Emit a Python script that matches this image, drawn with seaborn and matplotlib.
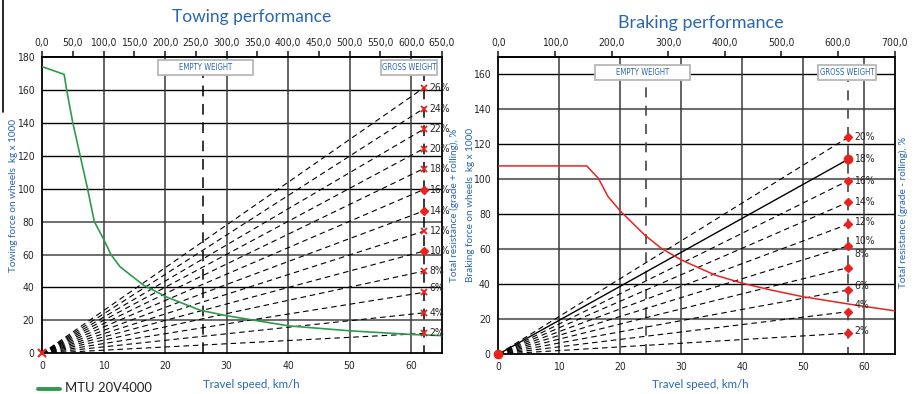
import matplotlib
matplotlib.use("Agg")
import numpy as np
import pandas as pd
import matplotlib.pyplot as plt
from matplotlib.patches import Rectangle
from matplotlib.lines import Line2D
from matplotlib import font_manager as fm
import seaborn as sns

# ---------------- data ----------------
tow_speed = [0, 3.6, 4.0, 5.0, 6.2, 7.4, 8.5, 10.1, 11.2, 12.7, 16.5, 20.2, 25.7, 30.1, 40.1, 50.1, 60.0, 65.0]
tow_force = [174, 169.3, 160, 140, 120, 100, 80, 68.7, 60, 52.5, 41.4, 34.3, 26.2, 22.8, 16.7, 13.7, 11.5, 10.8]

brake_speed = [0, 14.5, 16.4, 18.0, 20.1, 24.0, 26.7, 30.0, 35.5, 40.0, 44.7, 49.9, 57.6, 65.0]
brake_force = [107.6, 107.6, 100.6, 90.1, 81.5, 68.2, 60.6, 53.9, 45.3, 40.6, 36.7, 32.9, 28.6, 24.8]

tow_grades = ["2%", "4%", "6%", "8%", "10%", "12%", "14%", "16%", "18%", "20%", "22%", "24%", "26%"]
tow_resist = [12.1, 24.6, 37.0, 49.9, 62.0, 74.1, 86.4, 99.4, 112.1, 124.2, 136.0, 148.5, 161.0]

brake_grades = ["2%", "4%", "6%", "8%", "10%", "12%", "14%", "16%", "18%", "20%"]
brake_resist = [12.0, 24.3, 36.7, 49.5, 61.9, 74.3, 86.9, 99.2, 111.4, 124.0]

tow_empty_speed, tow_gross_speed = 26.1, 62.0
brake_empty_speed, brake_gross_speed = 24.2, 57.4

tow_top_ticks = list(range(0, 651, 50))
brake_top_ticks = list(range(0, 701, 100))
tow_yticks = list(range(0, 181, 20))
brake_yticks = list(range(0, 161, 20))
speed_ticks = [0, 10, 20, 30, 40, 50, 60]

legend_label = "MTU 20V4000"

# ---------------- style ----------------
sns.set_theme(style="white")
plt.rcParams["font.family"] = ["Lato", "DejaVu Sans"]

_fonts = fm.fontManager.ttflist
_names = {f.name for f in _fonts}
if "Liberation Sans Narrow" in _names:
    NARROW = dict(family="Liberation Sans Narrow")
    NSCALE = 1.0
elif any(f.name == "DejaVu Sans" and f.stretch == "condensed" for f in _fonts):
    NARROW = dict(family="DejaVu Sans", stretch="condensed")
    NSCALE = 1.0
else:
    NARROW = dict(family="Liberation Sans")
    NSCALE = 0.88

BLUE = "#2a66b0"
GREEN = "#2e9a4c"
RED = "#e8231f"
TICK_FS = 7.5 * NSCALE

fig = plt.figure(figsize=(9.17, 3.94), dpi=100)
axL = fig.add_axes([0.0458, 0.103, 0.4362, 0.753])
axR = fig.add_axes([0.5434, 0.101, 0.4321, 0.755])


def base_axes(ax, ylim, yticks, top_ticks, factor):
    ax.set_xlim(0, 65)
    ax.set_ylim(*ylim)
    ax.set_xticks(speed_ticks)
    ax.set_yticks(yticks)
    ax.set_xticklabels([str(t) for t in speed_ticks], fontsize=TICK_FS, **NARROW)
    ax.set_yticklabels([str(t) for t in yticks], fontsize=TICK_FS, **NARROW)
    ax.tick_params(axis="both", direction="out", length=3.5, width=1, color="black", pad=2)
    for s in ax.spines.values():
        s.set_visible(True)
        s.set_color("black")
        s.set_linewidth(1.3)
    sec = ax.secondary_xaxis("top", functions=(lambda x: x * factor, lambda x: x / factor))
    sec.set_xticks(top_ticks)
    sec.set_xticklabels([f"{t},0" for t in top_ticks], fontsize=TICK_FS, **NARROW)
    sec.tick_params(direction="out", length=4, width=1.2, pad=2)
    sec.spines["top"].set_linewidth(1.3)
    ax.set_xlabel("")
    ax.set_ylabel("")
    return sec


base_axes(axL, (0, 180), tow_yticks, tow_top_ticks, 10.0)
base_axes(axR, (0, 170), brake_yticks, brake_top_ticks, 700.0 / 65.0)

# grid lines
gridL_dark = {40, 100, 120, 140, 160}
for v in tow_yticks[1:]:
    axL.axhline(v, color="black" if v in gridL_dark else "#6e6e6e",
                lw=1.0 if v in gridL_dark else 1.4, zorder=0.5)
for v in brake_yticks[1:]:
    dark = v in (40, 80, 120, 160)
    axR.axhline(v, color="black" if dark else "#6e6e6e", lw=1.0 if dark else 1.5, zorder=0.5)
for ax in (axL, axR):
    for v in speed_ticks[1:]:
        ax.axvline(v, color="#3a3a3a", lw=1.1, zorder=0.5)


def weight_box(ax, box_x, box_y, text):
    x0, x1 = box_x
    y0, y1 = box_y
    ax.add_patch(Rectangle((x0, y0), x1 - x0, y1 - y0, facecolor="white",
                           edgecolor="#b8b8b8", lw=1.3, zorder=3))
    ax.text((x0 + x1) / 2, (y0 + y1) / 2, text, ha="center", va="center",
            fontsize=5.6 * NSCALE, color=BLUE, zorder=4, **NARROW)


axL.plot([tow_empty_speed] * 2, [0, 169], color="black", lw=1.1, dashes=(7, 5), zorder=1)
axL.plot([tow_gross_speed] * 2, [-1.5, 169], color="black", lw=1.1, dashes=(7, 5), zorder=1)
weight_box(axL, (18.9, 34.3), (169.2, 178.2), "EMPTY WEIGHT")
weight_box(axL, (55.1, 64.2), (169.2, 178.2), "GROSS WEIGHT")

axR.plot([brake_empty_speed] * 2, [0, 156.5], color="#444444", lw=1.2, dashes=(6, 5), zorder=1)
axR.plot([brake_gross_speed] * 2, [-1.5, 156.5], color="#444444", lw=1.2, dashes=(6, 5), zorder=1)
weight_box(axR, (15.8, 31.4), (156.7, 165.4), "EMPTY WEIGHT")
weight_box(axR, (52.5, 62.0), (156.7, 165.4), "GROSS WEIGHT")

# grade lines - towing
tow_label_dy = [0, 0, 2.5, 0, 0, 0, 0, 0, 0, 0, 0, 0, 0]
for g, v, dy in zip(tow_grades, tow_resist, tow_label_dy):
    axL.plot([0, tow_gross_speed], [0, v], color="black", lw=0.8, dashes=(5, 3.5), zorder=2)
    if g in ("10%", "14%", "16%"):
        axL.plot([tow_gross_speed], [v], marker="D", ms=4, color=RED, zorder=5, clip_on=False)
    else:
        axL.plot([tow_gross_speed], [v], marker="x", ms=5, mew=1.3, color=RED, zorder=5, clip_on=False)
    axL.text(tow_gross_speed + 0.9, v + dy, g, fontsize=TICK_FS, va="center", ha="left",
             zorder=6, clip_on=False, **NARROW)
axL.plot([0], [0], marker="x", ms=6, mew=1.5, color=RED, zorder=6, clip_on=False)

# grade lines - braking
brake_label_dy = [1.5, 4, 2, 8, 3, 1.5, 0, 0, 0, 0]
for g, v, dy in zip(brake_grades, brake_resist, brake_label_dy):
    if g == "18%":
        axR.plot([0, brake_gross_speed], [0, v], color="black", lw=1.0, zorder=2)
        axR.plot([brake_gross_speed], [v], marker="o", ms=6, color=RED, zorder=5)
    else:
        axR.plot([0, brake_gross_speed], [0, v], color="black", lw=0.8, dashes=(5, 3.5), zorder=2)
        axR.plot([brake_gross_speed], [v], marker="D", ms=4, color=RED, zorder=5)
    axR.text(brake_gross_speed + 1.0, v + dy, g, fontsize=TICK_FS, va="center", ha="left",
             zorder=6, **NARROW)
axR.plot([0], [0], marker="o", ms=6, color=RED, zorder=6, clip_on=False)

# performance curves (seaborn)
tow_df = pd.DataFrame({"speed": tow_speed, "force": tow_force})
brake_df = pd.DataFrame({"speed": brake_speed, "force": brake_force})
sns.lineplot(data=tow_df, x="speed", y="force", ax=axL, color=GREEN, lw=1.2, sort=False, zorder=4)
sns.lineplot(data=brake_df, x="speed", y="force", ax=axR, color=RED, lw=1.1, sort=False, zorder=4)
axL.set_xlabel(""); axL.set_ylabel("")
axR.set_xlabel(""); axR.set_ylabel("")

# titles and axis labels
fig.text(0.2745, 0.957, "Towing performance", ha="center", va="center", fontsize=12.5, color=BLUE)
fig.text(0.764, 0.942, "Braking performance", ha="center", va="center", fontsize=13, color=BLUE)
fig.text(0.2745, 0.023, "Travel speed, km/h", ha="center", va="center", fontsize=8.3, color=BLUE)
fig.text(0.764, 0.023, "Travel speed, km/h", ha="center", va="center", fontsize=8.3, color=BLUE)
fig.text(0.0145, 0.505, "Towing force on wheels  kg x 1000", rotation=90, ha="center", va="center",
         fontsize=7.2, color=BLUE)
fig.text(0.4958, 0.48, "Total resistance (grade + rolling), %", rotation=90, ha="center", va="center",
         fontsize=7.2, color=BLUE)
fig.text(0.5128, 0.48, "Braking force on wheels  kg x 1000", rotation=90, ha="center", va="center",
         fontsize=7.2, color=BLUE)
fig.text(0.985, 0.462, "Total resistance (grade - rolling), %", rotation=90, ha="center", va="center",
         fontsize=7.2, color=BLUE)

# legend at the bottom-left edge
fig.add_artist(Line2D([38 / 917, 60 / 917], [1 - 389 / 394] * 2, color=GREEN, lw=2.8))
fig.text(65 / 917, 1 - 392.5 / 394, legend_label, ha="left", va="baseline", fontsize=9.4, color="#222222")

# scan artifact on the far left
fig.add_artist(Line2D([2.5 / 917] * 2, [1.0, 1 - 112 / 394], color="black", lw=1.2))

fig.savefig("out.png", dpi=100)
